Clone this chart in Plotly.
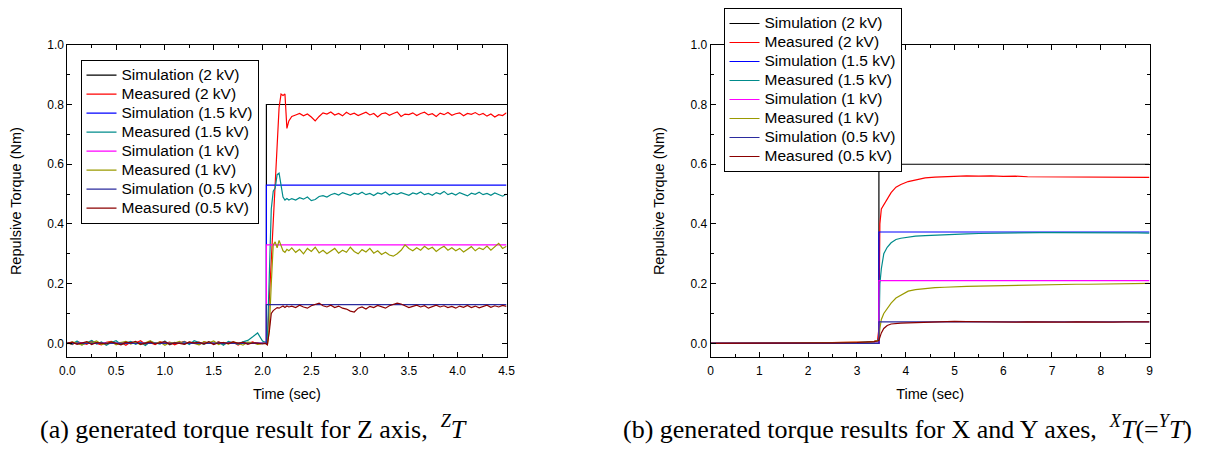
import numpy as np
import plotly.graph_objects as go

# ---------------- Left panel (Z axis) ----------------
t_pre_L = np.round(np.arange(0.0, 2.0001, 0.05), 3)          # 41 samples
t_tr_L = [2.03, 2.05, 2.07, 2.09, 2.11, 2.13, 2.15, 2.17, 2.19, 2.21, 2.23, 2.25, 2.27]
t_post_L = np.round(np.arange(2.30, 4.5001, 0.04), 3)        # 56 samples
time_L = list(t_pre_L) + t_tr_L + list(t_post_L)

sim_step_L = 2.04
sim_levels_L = {"2 kV": 0.80, "1.5 kV": 0.53, "1 kV": 0.33, "0.5 kV": 0.13}

meas_L_2kV = (
    [0.002,-0.004,0.006,0.001,-0.003,0.008,0.000,-0.005,0.004,0.007,-0.002,0.003,-0.006,0.005,0.001,0.009,
     -0.003,0.002,-0.004,0.006,0.000,0.004,-0.005,0.002,0.007,-0.001,0.003,-0.004,0.005,0.001,-0.002,0.006,
     -0.003,0.002,0.004,-0.006,0.003,0.000,0.005,-0.002,0.001]
    + [0.003,0.002,0.15,0.27,0.41,0.54,0.675,0.79,0.835,0.83,0.835,0.72,0.745]
    + [0.760,0.765,0.770,0.762,0.768,0.758,0.745,0.760,
       0.772,0.768,0.775,0.765,0.770,0.762,0.774,0.766,
       0.771,0.763,0.768,0.774,0.765,0.770,0.758,0.769,
       0.772,0.764,0.770,0.775,0.760,0.768,0.766,0.772,
       0.763,0.770,0.774,0.765,0.769,0.760,0.771,0.766,
       0.773,0.764,0.769,0.772,0.762,0.770,0.767,0.773,
       0.765,0.770,0.761,0.768,0.758,0.766,0.763,0.772]
)
meas_L_15kV = (
    [0.004,-0.003,0.008,-0.005,0.002,0.010,-0.002,0.005,-0.006,0.003,0.009,-0.004,0.001,0.007,-0.003,0.004,
     -0.007,0.006,0.002,-0.002,0.008,-0.005,0.003,0.000,0.006,-0.004,0.009,0.002,-0.003,0.005,-0.001,0.004,
     -0.006,0.007,0.002,-0.003,0.005,0.010,0.022,0.035,0.008]
    + [0.004,0.010,0.25,0.45,0.51,0.52,0.565,0.57,0.53,0.49,0.48,0.485,0.48]
    + [0.485,0.480,0.488,0.483,0.490,0.478,0.482,0.492,
       0.495,0.490,0.498,0.502,0.497,0.505,0.500,0.496,
       0.503,0.499,0.506,0.498,0.502,0.495,0.504,0.500,
       0.507,0.497,0.503,0.499,0.505,0.501,0.496,0.504,
       0.500,0.507,0.498,0.502,0.496,0.505,0.500,0.509,
       0.498,0.503,0.497,0.505,0.500,0.494,0.503,0.499,
       0.506,0.498,0.502,0.496,0.504,0.499,0.493,0.500]
)
meas_L_1kV = (
    [-0.002,0.005,0.001,-0.006,0.004,0.002,0.008,-0.003,0.000,0.006,-0.005,0.003,0.007,-0.002,0.004,-0.004,
     0.002,0.009,-0.001,0.005,-0.006,0.003,0.001,0.007,-0.003,0.004,0.000,-0.005,0.006,0.002,0.008,-0.004,
     0.003,-0.002,0.005,0.001,-0.006,0.004,0.002,-0.003,0.000]
    + [0.000,-0.005,0.05,0.20,0.33,0.34,0.32,0.345,0.33,0.31,0.305,0.315,0.31]
    + [0.320,0.305,0.315,0.300,0.318,0.308,0.322,0.303,
       0.312,0.300,0.310,0.318,0.302,0.312,0.305,0.322,
       0.308,0.300,0.314,0.306,0.318,0.302,0.310,0.298,
       0.305,0.296,0.292,0.300,0.312,0.330,0.318,0.310,
       0.320,0.312,0.325,0.315,0.322,0.308,0.318,0.325,
       0.312,0.320,0.310,0.318,0.306,0.316,0.324,0.310,
       0.320,0.314,0.326,0.312,0.322,0.335,0.318,0.325]
)
meas_L_05kV = (
    [0.001,0.004,-0.003,0.002,0.006,-0.004,0.003,0.001,-0.002,0.005,0.000,-0.005,0.004,0.002,0.007,-0.003,
     0.001,0.005,-0.002,0.003,0.006,-0.004,0.002,0.000,-0.003,0.005,0.001,0.004,-0.002,0.006,-0.004,0.002,
     0.003,-0.001,0.005,0.000,0.004,-0.003,0.002,0.001,-0.002]
    + [0.000,-0.005,0.04,0.10,0.11,0.115,0.12,0.118,0.122,0.125,0.12,0.125,0.122]
    + [0.125,0.120,0.128,0.122,0.118,0.126,0.130,0.135,
       0.126,0.122,0.128,0.120,0.125,0.118,0.115,0.108,
       0.105,0.118,0.122,0.115,0.124,0.120,0.127,0.122,
       0.118,0.126,0.130,0.135,0.132,0.126,0.120,0.124,
       0.128,0.122,0.126,0.118,0.124,0.128,0.122,0.126,
       0.120,0.124,0.118,0.125,0.121,0.127,0.120,0.125,
       0.119,0.124,0.128,0.121,0.126,0.122,0.127,0.124]
)

# ---------------- Right panel (X / Y axes) ----------------
time_R = [0.0,0.5,1.0,1.5,2.0,2.5,3.0,3.2,3.35,3.42,
          3.45,3.47,3.50,3.55,3.62,3.70,3.80,3.90,4.05,4.20,
          4.40,4.60,4.80,5.00,5.25,5.50,5.75,6.00,6.25,6.50,
          6.75,7.00,7.25,7.50,7.75,8.00,8.25,8.50,8.75,9.00]
sim_step_R = 3.45
sim_levels_R = {"2 kV": 0.60, "1.5 kV": 0.373, "1 kV": 0.21, "0.5 kV": 0.072}

meas_R_2kV = [0.000,0.001,0.000,0.001,0.001,0.002,0.003,0.005,0.007,0.009,
              0.050,0.400,0.450,0.465,0.485,0.505,0.523,0.532,0.542,0.548,
              0.554,0.557,0.559,0.560,0.561,0.560,0.561,0.559,0.560,0.558,
              0.558,0.557,0.558,0.556,0.557,0.558,0.556,0.557,0.558,0.556]
meas_R_15kV = [0.000,0.000,0.001,0.000,0.001,0.002,0.003,0.004,0.006,0.008,
               0.020,0.200,0.250,0.300,0.322,0.337,0.348,0.352,0.356,0.359,
               0.361,0.363,0.364,0.366,0.367,0.368,0.369,0.369,0.370,0.370,
               0.371,0.371,0.371,0.372,0.371,0.372,0.371,0.370,0.370,0.369]
meas_R_1kV = [0.000,0.001,0.000,0.000,0.001,0.002,0.002,0.004,0.006,0.008,
              0.010,0.050,0.080,0.100,0.118,0.135,0.152,0.162,0.175,0.180,
              0.184,0.187,0.188,0.190,0.191,0.192,0.193,0.194,0.195,0.195,
              0.196,0.197,0.197,0.198,0.198,0.199,0.199,0.200,0.200,0.201]
meas_R_05kV = [0.000,0.000,0.001,0.001,0.001,0.002,0.003,0.004,0.006,0.008,
               0.010,0.020,0.035,0.050,0.060,0.065,0.067,0.068,0.069,0.070,
               0.070,0.071,0.072,0.074,0.073,0.072,0.071,0.072,0.071,0.072,
               0.071,0.072,0.071,0.072,0.071,0.072,0.071,0.072,0.072,0.072]

for arr in (meas_L_2kV, meas_L_15kV, meas_L_1kV, meas_L_05kV):
    assert len(arr) == len(time_L), len(arr)
for arr in (meas_R_2kV, meas_R_15kV, meas_R_1kV, meas_R_05kV):
    assert len(arr) == len(time_R), len(arr)

voltages = ["2 kV", "1.5 kV", "1 kV", "0.5 kV"]
sim_colors = {"2 kV": "#000000", "1.5 kV": "#0000FF", "1 kV": "#FF00FF", "0.5 kV": "#2B2B9E"}
meas_colors = {"2 kV": "#FF0000", "1.5 kV": "#008B8B", "1 kV": "#9A9A00", "0.5 kV": "#8B0000"}

meas_L = {"2 kV": meas_L_2kV, "1.5 kV": meas_L_15kV, "1 kV": meas_L_1kV, "0.5 kV": meas_L_05kV}
meas_R = {"2 kV": meas_R_2kV, "1.5 kV": meas_R_15kV, "1 kV": meas_R_1kV, "0.5 kV": meas_R_05kV}

LEG_TXT = '<span style="font-size:15.5px">{}</span>'

fig = go.Figure()

def add_panel(time, meas, step, levels, xend, xa, ya, leg):
    for v in voltages:
        lvl = levels[v]
        fig.add_trace(go.Scatter(
            x=[0, step, step, xend], y=[0, 0, lvl, lvl], mode="lines",
            line=dict(color=sim_colors[v], width=1.2), name=LEG_TXT.format(f"Simulation ({v})"),
            xaxis=xa, yaxis=ya, legend=leg))
        fig.add_trace(go.Scatter(
            x=time, y=meas[v], mode="lines",
            line=dict(color=meas_colors[v], width=1.2), name=LEG_TXT.format(f"Measured ({v})"),
            xaxis=xa, yaxis=ya, legend=leg))

add_panel(time_L, meas_L, sim_step_L, sim_levels_L, 4.5, "x", "y", "legend")
add_panel(time_R, meas_R, sim_step_R, sim_levels_R, 9.0, "x2", "y2", "legend2")

# page has an 8px body margin: figure is shrunk and positions converted from page pixels
OFF = 8
W, H = 1214 - 2 * OFF, 476 - 2 * OFF
def px_x(p): return (p - OFF) / W
def px_y(p): return 1 - (p - OFF) / H

axis_common = dict(
    showline=True, linecolor="#000000", linewidth=1, mirror="allticks",
    ticks="inside", ticklen=5, tickwidth=1, tickcolor="#000000",
    showgrid=False, zeroline=False, automargin=False,
    tickfont=dict(family="Arial, Liberation Sans", size=12, color="#000000"),
    title_font=dict(family="Arial, Liberation Sans", size=14.5, color="#000000"),
)
minor_x1 = dict(dtick=0.25, ticks="inside", ticklen=3, tickcolor="#000000")
minor_x2 = dict(dtick=0.5, ticks="inside", ticklen=3, tickcolor="#000000")
minor_y = dict(dtick=0.1, ticks="inside", ticklen=3, tickcolor="#000000")

fig.update_layout(
    width=W, height=H,
    margin=dict(l=0, r=0, t=0, b=0),
    paper_bgcolor="white", plot_bgcolor="white",
    xaxis=dict(domain=[px_x(67.3), px_x(506.5)], range=[0, 4.5], dtick=0.5, tickformat=".1f",
               minor=minor_x1, ticklabelstandoff=2,
               title=dict(text="Time (sec)", standoff=12), anchor="y", **axis_common),
    yaxis=dict(domain=[px_y(356.7), px_y(42)], range=[-0.047, 1.0], dtick=0.2, tickformat=".1f",
               minor=minor_y,
               title=dict(text="Repulsive Torque (Nm)", standoff=22), anchor="x", **axis_common),
    xaxis2=dict(domain=[px_x(710.7), px_x(1149.5)], range=[0, 9], dtick=1,
                minor=minor_x2, ticklabelstandoff=2,
                title=dict(text="Time (sec)", standoff=12), anchor="y2", **axis_common),
    yaxis2=dict(domain=[px_y(356.7), px_y(42)], range=[-0.047, 1.0], dtick=0.2, tickformat=".1f",
                minor=minor_y,
                title=dict(text="Repulsive Torque (Nm)", standoff=22), anchor="x2", **axis_common),
    legend=dict(x=px_x(80.5), y=px_y(57), xanchor="left", yanchor="top",
                bgcolor="white", bordercolor="#000000", borderwidth=1,
                font=dict(family="Arial, Liberation Sans", size=12, color="#000000"),
                tracegroupgap=0, itemwidth=30),
    legend2=dict(x=px_x(723.5), y=px_y(5), xanchor="left", yanchor="top",
                 bgcolor="white", bordercolor="#000000", borderwidth=1,
                 font=dict(family="Arial, Liberation Sans", size=12, color="#000000"),
                 tracegroupgap=0, itemwidth=30),
    showlegend=True,
)

cap_font = dict(family="Liberation Serif, Times New Roman, serif", size=26, color="#000000")
fig.add_annotation(x=px_x(38), y=px_y(427), xref="paper", yref="paper", xanchor="left", yanchor="middle",
                   text="(a) generated torque result for Z axis,  <sup><i>Z</i></sup><i>T</i>",
                   showarrow=False, font=cap_font)
fig.add_annotation(x=px_x(621), y=px_y(427), xref="paper", yref="paper", xanchor="left", yanchor="middle",
                   text="(b) generated torque results for X and Y axes,  <sup><i>X</i></sup><i>T</i>(=<sup><i>Y</i></sup><i>T</i>)",
                   showarrow=False, font=cap_font)

fig.write_html("out.html")
